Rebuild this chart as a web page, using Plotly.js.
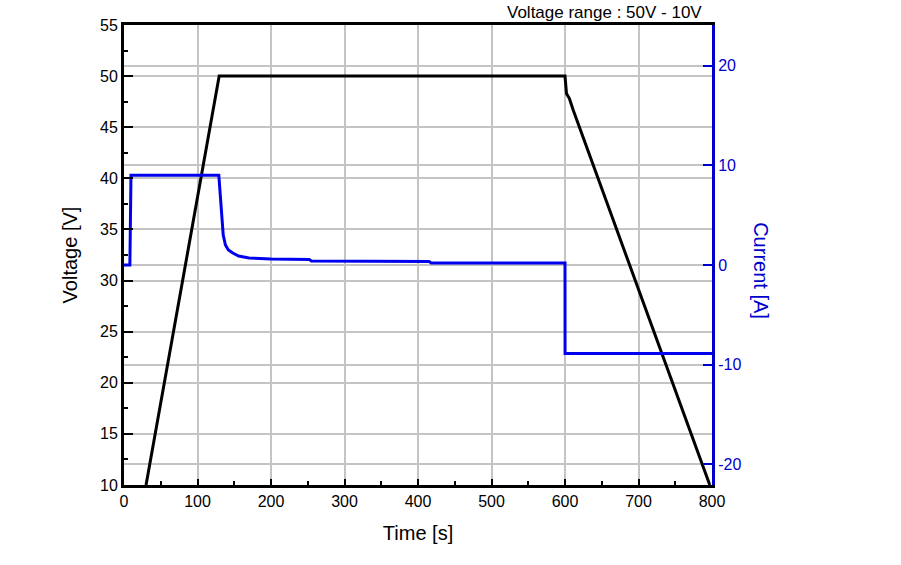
<!DOCTYPE html>
<html>
<head>
<meta charset="utf-8">
<script src="https://cdn.plot.ly/plotly-3.0.1.min.js"></script>
<style>html,body{margin:0;padding:0;background:#fff;}#chart{width:901px;height:565px;}</style>
</head>
<body>
<div id="chart"></div>
<script>
var timeV = [30, 129.5, 600, 600.5, 602, 606, 609, 611, 797];
var voltage = [10, 50, 50, 49.2, 48.3, 47.8, 47.2, 46.7, 10];

var timeI = [0, 8, 9.5, 129, 131, 133, 135, 138, 142, 148, 156, 170, 200, 252, 255, 415, 418, 600, 600.1, 800];
var current = [0, 0, 9.0, 9.0, 7.0, 4.5, 3.0, 2.0, 1.5, 1.2, 0.9, 0.7, 0.6, 0.55, 0.4, 0.35, 0.2, 0.2, -8.9, -8.9];

var xTicks = [0, 100, 200, 300, 400, 500, 600, 700, 800];
var vTicks = [10, 15, 20, 25, 30, 35, 40, 45, 50, 55];
var iTicks = [-20, -10, 0, 10, 20];
var iTickText = ['-20', '-10', '0', '10', '20'];

var font = "Arial, 'Liberation Sans', sans-serif";
var blue = '#0000cc';

var traces = [
  {x: timeV, y: voltage, type: 'scatter', mode: 'lines', line: {color: '#000000', width: 3}, yaxis: 'y', showlegend: false, hoverinfo: 'skip'},
  {x: timeI, y: current, type: 'scatter', mode: 'lines', line: {color: '#0000ee', width: 3}, yaxis: 'y2', showlegend: false, hoverinfo: 'skip'}
];

var layout = {
  width: 901, height: 565,
  margin: {l: 124, r: 189, t: 25, b: 80},
  paper_bgcolor: '#ffffff', plot_bgcolor: '#ffffff',
  font: {family: font, size: 16, color: '#000'},
  showlegend: false,
  xaxis: {
    range: [0, 800], tickvals: xTicks,
    showgrid: true, gridcolor: '#c4c4c4', gridwidth: 2,
    showline: true, linecolor: '#000', linewidth: 3, mirror: true,
    ticks: 'inside', ticklen: 6, tickwidth: 2, tickcolor: '#000',
    minor: {dtick: 50, ticks: 'inside', ticklen: 4, tickwidth: 2, tickcolor: '#000', showgrid: false},
    tickfont: {size: 16, family: font},
    zeroline: false,
    title: {text: 'Time [s]', font: {size: 20, family: font}, standoff: 17}
  },
  yaxis: {
    range: [10, 55], tickvals: vTicks,
    showgrid: true, gridcolor: '#c4c4c4', gridwidth: 2,
    showline: true, linecolor: '#000', linewidth: 3,
    ticks: 'inside', ticklen: 9, tickwidth: 2, tickcolor: '#000',
    minor: {dtick: 2.5, ticks: 'inside', ticklen: 4, tickwidth: 2, tickcolor: '#000', showgrid: false},
    tickfont: {size: 16, family: font},
    zeroline: false,
    title: {text: 'Voltage [V]', font: {size: 20, family: font}, standoff: 18}
  },
  yaxis2: {
    overlaying: 'y', side: 'right',
    range: [-22.1, 24.1], tickvals: iTicks, ticktext: iTickText,
    showgrid: true, gridcolor: '#c4c4c4', gridwidth: 2,
    showline: true, linecolor: blue, linewidth: 3,
    ticks: 'inside', ticklen: 9, tickwidth: 2, tickcolor: blue,
    tickfont: {size: 16, family: font, color: blue},
    zeroline: false
  },
  annotations: [
    {xref: 'paper', yref: 'paper', x: 1, y: 1, xanchor: 'right', yanchor: 'bottom', xshift: -8, yshift: 1,
     text: 'Voltage range : 50V - 10V', showarrow: false, font: {size: 17, family: font, color: '#000'}},
    {xref: 'paper', yref: 'paper', x: 1, y: 0.467, xanchor: 'center', yanchor: 'middle', xshift: 49,
     text: 'Current [A]', textangle: 90, showarrow: false, font: {size: 20, family: font, color: blue}}
  ]
};

Plotly.newPlot('chart', traces, layout, {displayModeBar: false, staticPlot: true});
</script>
</body>
</html>
